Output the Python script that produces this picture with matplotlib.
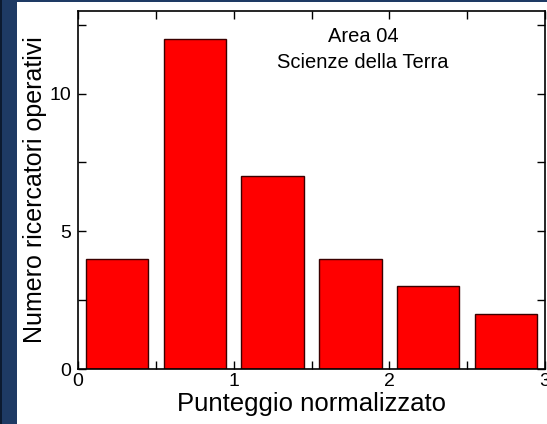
import matplotlib
matplotlib.use("Agg")
import matplotlib.pyplot as plt
from matplotlib.patches import Rectangle
from matplotlib.ticker import MultipleLocator

plt.rcParams['font.family'] = ['Liberation Sans', 'DejaVu Sans']

# bin centres (punteggio normalizzato) and counts
bin_centers = [0.25, 0.75, 1.25, 1.75, 2.25, 2.75]
counts = [4, 12, 7, 4, 3, 2]
title_lines = ["Area 04", "Scienze della Terra"]

W, H = 547, 424
fig = plt.figure(figsize=(W / 100, H / 100), dpi=100, facecolor='#1e3a64')

# slide-like frame: dark strip on the left, white panel behind the axes
fig.patches.append(Rectangle((0, 0), 2 / W, 1, transform=fig.transFigure,
                             facecolor='#0c1a30', edgecolor='none', zorder=-10))
fig.patches.append(Rectangle((17 / W, 0), 1 - 17 / W, 1 - 2 / H, transform=fig.transFigure,
                             facecolor='white', edgecolor='none', zorder=-10))

ax = fig.add_axes([78 / W, 55 / H, 467 / W, 358 / H])
ax.set_facecolor('white')

ax.bar(bin_centers, counts, width=0.4, color='#ff0000', edgecolor='#3a0000', linewidth=1.0)

ax.set_xlim(0, 3)
ax.set_ylim(0, 13)
ax.xaxis.set_major_locator(MultipleLocator(1))
ax.xaxis.set_minor_locator(MultipleLocator(0.5))
ax.yaxis.set_major_locator(MultipleLocator(5))
ax.yaxis.set_minor_locator(MultipleLocator(2.5))
ax.tick_params(which='both', direction='in', top=True, right=True,
               labelsize=14, width=1, length=6)
ax.tick_params(axis='x', pad=3)
ax.tick_params(axis='y', pad=5)

for s in ax.spines.values():
    s.set_linewidth(1.2)

ax.set_xlabel("Punteggio normalizzato", fontsize=18.5, labelpad=1)
ax.set_ylabel("Numero ricercatori operativi", fontsize=18, labelpad=2)

ax.text(1.83, 11.87, title_lines[0], ha='center', va='baseline', fontsize=14.5)
ax.text(1.83, 10.93, title_lines[1], ha='center', va='baseline', fontsize=14.5)

fig.savefig("out.png", dpi=100, facecolor=fig.get_facecolor())
